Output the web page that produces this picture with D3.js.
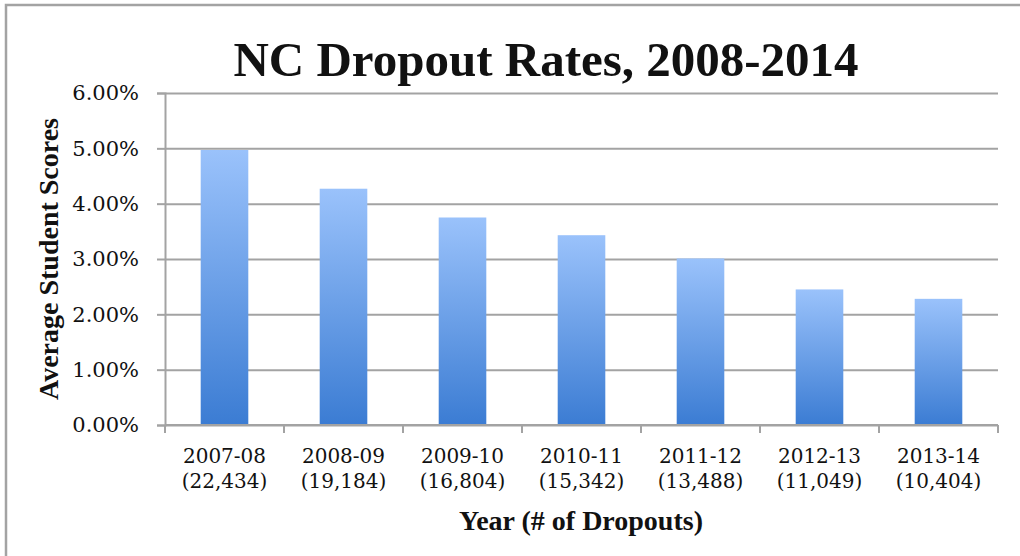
<!DOCTYPE html>
<html>
<head>
<meta charset="utf-8">
<script src="https://cdn.jsdelivr.net/npm/d3@7"></script>
<style>
  body { margin: 0; background: #fff; }
  text { font-family: "Liberation Serif", "DejaVu Serif", serif; fill: #111; }
  .tick-label { font-family: "DejaVu Serif", serif; }
</style>
</head>
<body>
<div id="chart"></div>
<script>
// data
var years = ["2007-08", "2008-09", "2009-10", "2010-11", "2011-12", "2012-13", "2013-14"];
var dropouts = ["(22,434)", "(19,184)", "(16,804)", "(15,342)", "(13,488)", "(11,049)", "(10,404)"];
var rates = [0.0497, 0.0427, 0.0375, 0.0343, 0.0301, 0.0245, 0.0228];
var yTicks = [0, 0.01, 0.02, 0.03, 0.04, 0.05, 0.06];

var W = 1020, H = 556;
var margin = {top: 93, right: 22, bottom: 131, left: 165},
    width = W - margin.left - margin.right,
    height = H - margin.top - margin.bottom;

var svg = d3.select("#chart").append("svg")
    .attr("width", W)
    .attr("height", H);

// outer frame (top and left edges are visible)
svg.append("path")
    .attr("d", "M6,556 L6,5 L1020,5")
    .attr("fill", "none")
    .attr("stroke", "#a3a3a3")
    .attr("stroke-width", 2.5);

var grad = svg.append("defs").append("linearGradient")
    .attr("id", "bar-gradient")
    .attr("x1", 0).attr("y1", 0).attr("x2", 0).attr("y2", 1);
grad.append("stop").attr("offset", "0%").attr("stop-color", "#9ac2fb");
grad.append("stop").attr("offset", "100%").attr("stop-color", "#3b7cd3");

var g = svg.append("g")
    .attr("transform", "translate(" + margin.left + "," + margin.top + ")");

var x = d3.scaleBand()
    .domain(years)
    .range([0, width])
    .paddingInner(0.6)
    .paddingOuter(0.3);
var xEdge = d3.scaleBand().domain(years).range([0, width]);

var y = d3.scaleLinear()
    .domain([0, 0.06])
    .range([height, 0]);

// gridlines + y axis
g.append("g")
    .attr("class", "grid")
    .call(d3.axisLeft(y).tickValues(yTicks).tickSize(-width).tickFormat(""))
    .call(s => s.select(".domain").remove())
    .call(s => s.selectAll("line").attr("stroke", "#a3a3a3").attr("stroke-width", 2));

g.append("g")
    .call(d3.axisLeft(y).tickValues(yTicks).tickSize(8).tickPadding(18).tickFormat(d3.format(".2%")))
    .call(s => s.select(".domain").attr("stroke", "#a3a3a3").attr("stroke-width", 2))
    .call(s => s.selectAll("line").attr("stroke", "#a3a3a3").attr("stroke-width", 2))
    .call(s => s.selectAll("text").attr("class", "tick-label")
        .style("font-size", "21px").attr("fill", "#111"));

// bars
g.selectAll(".bar")
    .data(rates)
  .enter().append("rect")
    .attr("class", "bar")
    .attr("fill", "url(#bar-gradient)")
    .attr("x", (d, i) => x(years[i]))
    .attr("width", x.bandwidth())
    .attr("y", d => y(d))
    .attr("height", d => height - y(d));

// x axis with boundary ticks
var bottom = g.append("g").attr("transform", "translate(0," + height + ")");
bottom.append("line")
    .attr("x1", 0).attr("x2", width)
    .attr("stroke", "#a3a3a3").attr("stroke-width", 2);
bottom.selectAll(".edge")
    .data(years.concat(["end"]))
  .enter().append("line")
    .attr("x1", (d, i) => i < years.length ? xEdge(d) : width)
    .attr("x2", (d, i) => i < years.length ? xEdge(d) : width)
    .attr("y1", 0).attr("y2", 8)
    .attr("stroke", "#a3a3a3").attr("stroke-width", 2);

var lab = bottom.selectAll(".xlab")
    .data(years)
  .enter().append("text")
    .attr("class", "tick-label")
    .attr("text-anchor", "middle")
    .style("font-size", "20px")
    .attr("x", d => xEdge(d) + xEdge.bandwidth() / 2);
lab.append("tspan").attr("y", 38).text(d => d);
lab.append("tspan").attr("y", 63)
    .attr("x", d => xEdge(d) + xEdge.bandwidth() / 2)
    .text((d, i) => dropouts[i]);

// axis titles
svg.append("text")
    .attr("x", 581).attr("y", 530)
    .attr("text-anchor", "middle")
    .style("font-size", "28px").style("font-weight", "bold")
    .text("Year (# of Dropouts)");

svg.append("text")
    .attr("transform", "translate(58,259) rotate(-90)")
    .attr("text-anchor", "middle")
    .style("font-size", "28px").style("font-weight", "bold")
    .text("Average Student Scores");

// chart title
svg.append("text")
    .attr("x", 546).attr("y", 76)
    .attr("text-anchor", "middle")
    .style("font-size", "49px").style("font-weight", "bold")
    .text("NC Dropout Rates, 2008-2014");
</script>
</body>
</html>
